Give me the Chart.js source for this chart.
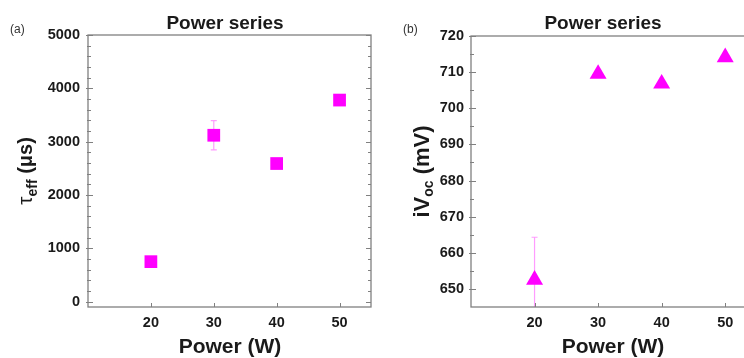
<!DOCTYPE html>
<html>
<head>
<meta charset="utf-8">
<script src="https://cdn.jsdelivr.net/npm/chart.js@4"></script>
<style>
  html, body { margin: 0; padding: 0; background: #fff; width: 744px; height: 358px; overflow: hidden; }
  #wrapA { position: absolute; left: 0; top: 0; }
  #wrapB { position: absolute; left: 380px; top: 0; }
</style>
</head>
<body>
<div id="wrapA"><canvas id="chartA" width="380" height="358"></canvas></div>
<div id="wrapB"><canvas id="chartB" width="400" height="358"></canvas></div>
<script>
// Data.
const powers = [20, 30, 40, 50];
const tauEff = [750, 3120, 2590, 3780];
const tauErr = [0, 275, 0, 0];
const iVoc = [652.5, 709.5, 706.8, 714.1];
const iVocErr = [11.8, 0, 0, 0];

// Tick labels.
const powerTicks = [20, 30, 40, 50];
const tauTicks = [0, 1000, 2000, 3000, 4000, 5000];
const vocTicks = [650, 660, 670, 680, 690, 700, 710, 720];

const MAGENTA = '#ff00ff';
const ERR_COLOR = '#ff9cff';
const AXIS_COLOR = '#808080';
const TEXT_COLOR = '#1a1a1a';
const FONT = '"Liberation Sans", Arial, sans-serif';

// Draws the error bars for the first dataset, under the markers.
const errorBars = {
    id: 'errorBars',
    beforeDatasetsDraw(chart, args, opts) {
        const ctx = chart.ctx;
        const area = chart.chartArea;
        const xs = chart.scales.x, ys = chart.scales.y;
        const data = chart.data.datasets[0].data;
        ctx.save();
        ctx.beginPath();
        ctx.rect(area.left, area.top, area.right - area.left, area.bottom - area.top);
        ctx.clip();
        ctx.strokeStyle = ERR_COLOR;
        ctx.lineWidth = 1.2;
        for (let i = 0; i < data.length; i++) {
            let e = opts.errors[i];
            if (!e) continue;
            let px = xs.getPixelForValue(data[i].x);
            let top = ys.getPixelForValue(data[i].y + e);
            let bot = ys.getPixelForValue(data[i].y - e);
            ctx.beginPath();
            ctx.moveTo(px, top); ctx.lineTo(px, bot);
            ctx.moveTo(px - 3, top); ctx.lineTo(px + 3, top);
            ctx.moveTo(px - 3, bot); ctx.lineTo(px + 3, bot);
            ctx.stroke();
        }
        ctx.restore();
    }
};

// Box, inside ticks, titles and panel letters.
const frame = {
    id: 'frame',
    afterDraw(chart, args, opts) {
        const ctx = chart.ctx;
        const a = chart.chartArea;
        const xs = chart.scales.x, ys = chart.scales.y;
        ctx.save();
        ctx.strokeStyle = AXIS_COLOR;
        ctx.lineWidth = 1.3;
        ctx.strokeRect(a.left, a.top, a.right - a.left, a.bottom - a.top);

        ctx.lineWidth = 1;
        ctx.beginPath();
        // y major ticks
        for (const t of ys.ticks) {
            let py = Math.round(ys.getPixelForValue(t.value)) + 0.5;
            ctx.moveTo(a.left - 2, py); ctx.lineTo(a.left + 5, py);
            ctx.moveTo(a.right, py); ctx.lineTo(a.right - 5, py);
        }
        // y minor ticks
        for (let v = opts.minorStart; v < ys.max; v += opts.minorStep) {
            let py = Math.round(ys.getPixelForValue(v)) + 0.5;
            ctx.moveTo(a.left - 1, py); ctx.lineTo(a.left + 3, py);
            ctx.moveTo(a.right, py); ctx.lineTo(a.right - 3, py);
        }
        // x major ticks
        for (const t of xs.ticks) {
            let px = Math.round(xs.getPixelForValue(t.value)) + 0.5;
            ctx.moveTo(px, a.bottom); ctx.lineTo(px, a.bottom - 4);
        }
        ctx.stroke();

        ctx.fillStyle = TEXT_COLOR;
        ctx.textAlign = 'center';
        ctx.textBaseline = 'middle';
        ctx.font = 'bold 19px ' + FONT;
        ctx.fillText('Power series', opts.titleX, 24);
        ctx.font = 'bold 21px ' + FONT;
        ctx.fillText('Power (W)', opts.xTitleX, 347);

        ctx.fillStyle = '#333';
        ctx.font = '12px ' + FONT;
        ctx.textAlign = 'left';
        ctx.fillText(opts.letter, opts.letterX, 30);

        // rotated y title with a subscript
        ctx.translate(opts.yTitleX, (a.top + a.bottom) / 2);
        ctx.rotate(-Math.PI / 2);
        ctx.fillStyle = TEXT_COLOR;
        ctx.textBaseline = 'alphabetic';
        let parts = opts.yTitle;
        let total = 0;
        for (const p of parts) {
            ctx.font = p.font;
            total += ctx.measureText(p.text).width;
        }
        let x = -total / 2;
        for (const p of parts) {
            ctx.font = p.font;
            ctx.fillText(p.text, x, p.dy);
            x += ctx.measureText(p.text).width;
        }
        ctx.restore();
    }
};

function makeChart(canvasId, values, errors, cfg) {
    return new Chart(document.getElementById(canvasId), {
        type: 'scatter',
        data: {
            datasets: [{
                data: powers.map((p, i) => ({ x: p, y: values[i] })),
                pointStyle: cfg.pointStyle,
                pointRadius: cfg.radius,
                pointHoverRadius: cfg.radius,
                backgroundColor: MAGENTA,
                borderColor: MAGENTA,
                borderWidth: 0
            }]
        },
        options: {
            responsive: false,
            animation: false,
            devicePixelRatio: 1,
            layout: { padding: { left: 0, top: cfg.top, right: cfg.right, bottom: 0 } },
            plugins: {
                legend: { display: false },
                tooltip: { enabled: false },
                errorBars: { errors: errors },
                frame: cfg.frame
            },
            scales: {
                x: {
                    type: 'linear',
                    min: 10,
                    max: 55,
                    grid: { display: false, drawTicks: false },
                    border: { display: false },
                    afterBuildTicks: (s) => { s.ticks = powerTicks.map(v => ({ value: v })); },
                    afterFit: (s) => { s.height = 51; },
                    ticks: {
                        padding: 7,
                        color: TEXT_COLOR,
                        font: { family: FONT, size: 14.5, weight: 'bold' },
                        callback: (v) => String(v)
                    }
                },
                y: {
                    min: cfg.yMin,
                    max: cfg.yMax,
                    grid: { display: false, drawTicks: false },
                    border: { display: false },
                    afterBuildTicks: (s) => { s.ticks = cfg.yTicks.map(v => ({ value: v })); },
                    afterFit: (s) => { s.width = cfg.left; },
                    ticks: {
                        padding: cfg.labelPad,
                        color: TEXT_COLOR,
                        font: { family: FONT, size: 14.5, weight: 'bold' },
                        callback: (v) => String(v)
                    }
                }
            }
        },
        plugins: [errorBars, frame]
    });
}

makeChart('chartA', tauEff, tauErr, {
    pointStyle: 'rect', radius: 9,
    top: 35, right: 8, left: 88, labelPad: 8,
    yMin: -100, yMax: 5000, yTicks: tauTicks,
    frame: {
        minorStart: 200, minorStep: 200,
        titleX: 225, xTitleX: 230, letter: '(a)', letterX: 10, yTitleX: 32,
        yTitle: [
            { text: '\u03c4', font: '21px ' + FONT, dy: 0 },
            { text: 'eff', font: 'bold 14px ' + FONT, dy: 5 },
            { text: ' (\u03bcs)', font: 'bold 20px ' + FONT, dy: 0 }
        ]
    }
});

makeChart('chartB', iVoc, iVocErr, {
    pointStyle: 'triangle', radius: 9.8,
    top: 36, right: 23, left: 91, labelPad: 7,
    yMin: 645, yMax: 720, yTicks: vocTicks,
    frame: {
        minorStart: 655, minorStep: 10,
        titleX: 223, xTitleX: 233, letter: '(b)', letterX: 23, yTitleX: 49,
        yTitle: [
            { text: 'iV', font: 'bold 22px ' + FONT, dy: 0 },
            { text: 'oc', font: 'bold 14px ' + FONT, dy: 4 },
            { text: ' (mV)', font: 'bold 22px ' + FONT, dy: 0 }
        ]
    }
});
</script>
</body>
</html>
